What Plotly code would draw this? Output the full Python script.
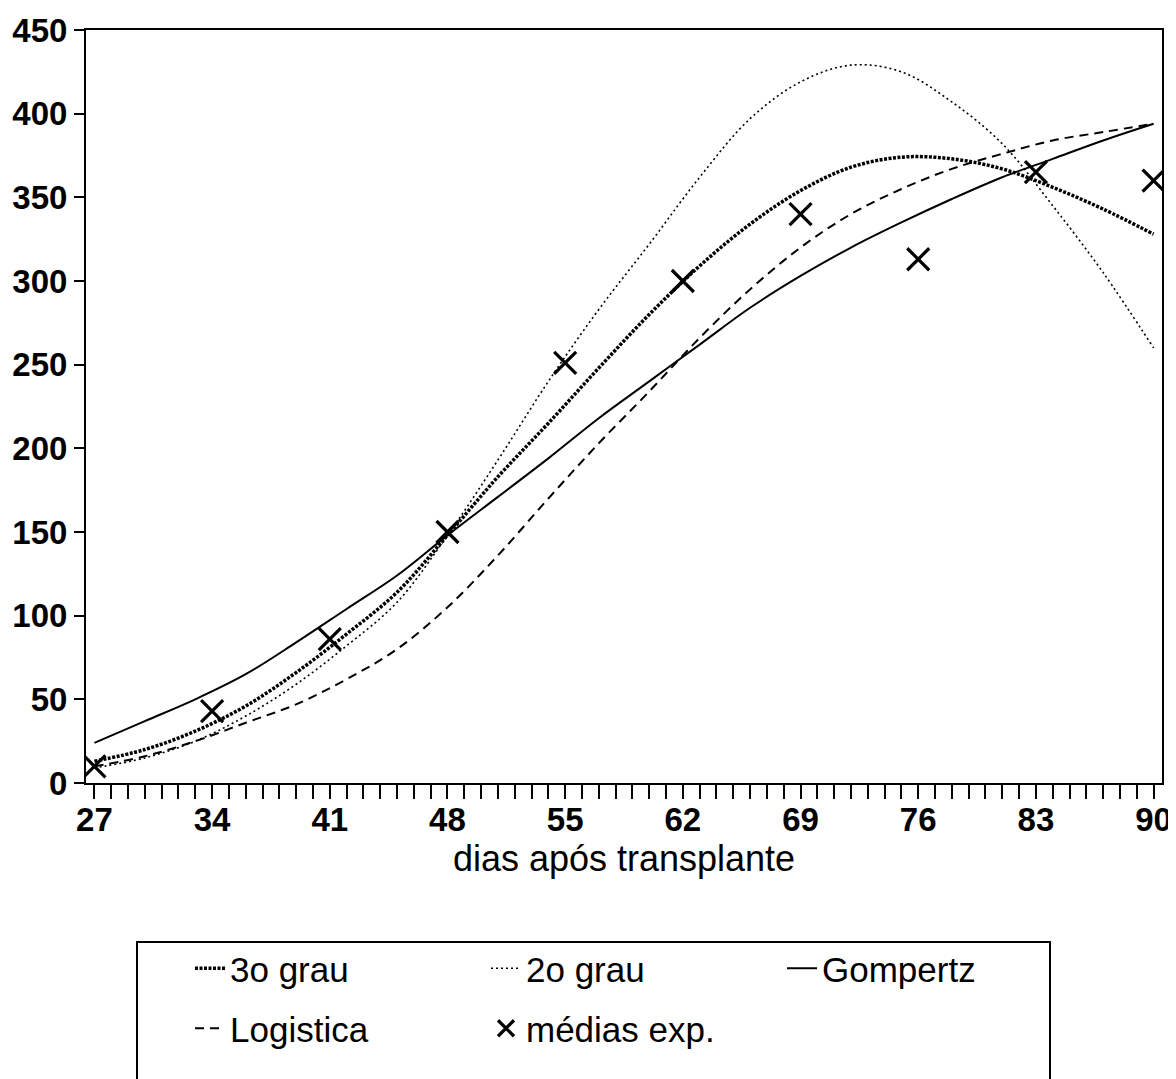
import plotly.graph_objects as go

# ---------------- data ----------------
days = [27, 30, 33, 36, 39, 42, 45, 48, 51, 54, 57, 60, 63, 66, 69, 72, 75, 78, 81, 84, 87, 90]

cubic_3o = [13, 20, 31, 46, 66, 89, 114, 148, 183, 215, 248, 280, 309, 334, 354, 368, 374, 373, 367, 356, 343, 328]
quad_2o = [9, 15, 25, 40, 59, 82, 108, 148, 193, 240, 283, 322, 362, 397, 419, 429, 425, 407, 382, 345, 305, 260]
gompertz = [24, 37, 50, 65, 84, 104, 124, 148, 171, 194, 218, 240, 262, 284, 303, 320, 335, 349, 362, 373, 384, 394]
logistica = [10, 16, 25, 36, 47, 62, 80, 105, 136, 170, 203, 234, 266, 295, 320, 340, 355, 367, 376, 384, 389, 394]

obs_days = [27, 34, 41, 48, 55, 62, 69, 76, 83, 90]
obs_means = [10, 43, 86, 150, 251, 300, 340, 313, 365, 360]

x_ticks = [27, 34, 41, 48, 55, 62, 69, 76, 83, 90]
y_ticks = [0, 50, 100, 150, 200, 250, 300, 350, 400, 450]

FONT = "Liberation Sans, Arial, sans-serif"

fig = go.Figure()

fig.add_trace(go.Scatter(
    x=days, y=cubic_3o, name="3o grau", mode="lines", legend="legend",
    line=dict(color="black", width=3.5, dash="3px,1.5px", shape="spline"),
))
fig.add_trace(go.Scatter(
    x=days, y=quad_2o, name="2o grau", mode="lines", legend="legend",
    line=dict(color="black", width=1.6, dash="2px,3px", shape="spline"),
))
fig.add_trace(go.Scatter(
    x=days, y=gompertz, name="Gompertz", mode="lines", legend="legend",
    line=dict(color="black", width=2, shape="spline"),
))
fig.add_trace(go.Scatter(
    x=days, y=logistica, name="Logistica", mode="lines", legend="legend2",
    line=dict(color="black", width=2, dash="9px,6px", shape="spline"),
))
fig.add_trace(go.Scatter(
    x=obs_days, y=obs_means, name="médias exp.", mode="markers", legend="legend2",
    marker=dict(symbol="x-thin", size=22, color="black",
                line=dict(color="black", width=3.2)),
))

# The page body adds an 8px offset; the figure is sized to fit the window.
OFF = 8
W, H = 1176 - OFF, 1079 - OFF
# plot area on screen: left 86, right 1162, top 30, bottom 783
L = 86 - OFF
T = 30 - OFF
R = W - (1162 - OFF)
B = H - (783 - OFF)
pw = W - L - R
ph = H - T - B

def sx_to_paper(px):
    return (px - OFF - L) / pw

def sy_to_paper(py):
    return (H - B - (py - OFF)) / ph

legend_common = dict(
    orientation="h",
    xref="container", yref="container",
    xanchor="left", yanchor="top",
    entrywidthmode="pixels", entrywidth=251,
    font=dict(family=FONT, size=35, color="black"),
    bgcolor="rgba(0,0,0,0)", borderwidth=0,
    traceorder="normal",
)

fig.update_layout(
    width=W, height=H,
    margin=dict(l=L, r=R, t=T, b=B, autoexpand=False),
    paper_bgcolor="white", plot_bgcolor="white",
    font=dict(family=FONT, color="black", size=33),
    showlegend=True,
    legend=dict(legend_common, x=(190 - OFF) / W, y=1 - (939 - OFF) / H),
    legend2=dict(legend_common, x=(190 - OFF) / W, y=1 - (999 - OFF) / H),
    shapes=[dict(
        type="rect", xref="paper", yref="paper",
        x0=sx_to_paper(137), x1=sx_to_paper(1050),
        y0=sy_to_paper(1095), y1=sy_to_paper(942),
        line=dict(color="black", width=2), fillcolor="rgba(0,0,0,0)",
        layer="above",
    )],
)

fig.update_xaxes(
    range=[26.5, 90.5], automargin=False,
    tickmode="array", tickvals=x_ticks, ticktext=[str(v) for v in x_ticks],
    ticks="outside", ticklen=14, tickwidth=2, tickcolor="black",
    showline=True, linecolor="black", linewidth=2, mirror=True,
    showgrid=False, zeroline=False,
    ticklabelstandoff=-8,
    tickfont=dict(family=FONT, size=33, color="black", weight="bold"),
    minor=dict(tick0=27, dtick=1, ticks="outside", ticklen=14, tickwidth=2,
               tickcolor="black", showgrid=False),
    title=dict(text="dias após transplante", standoff=8,
               font=dict(family=FONT, size=36, color="black")),
)
fig.update_yaxes(
    range=[0, 450], automargin=False,
    tickmode="array", tickvals=y_ticks, ticktext=[str(v) for v in y_ticks],
    ticks="outside", ticklen=10, tickwidth=2, tickcolor="black",
    showline=True, linecolor="black", linewidth=2, mirror=True,
    showgrid=False, zeroline=False,
    tickfont=dict(family=FONT, size=33, color="black", weight="bold"),
)

fig.write_html("out.html")
